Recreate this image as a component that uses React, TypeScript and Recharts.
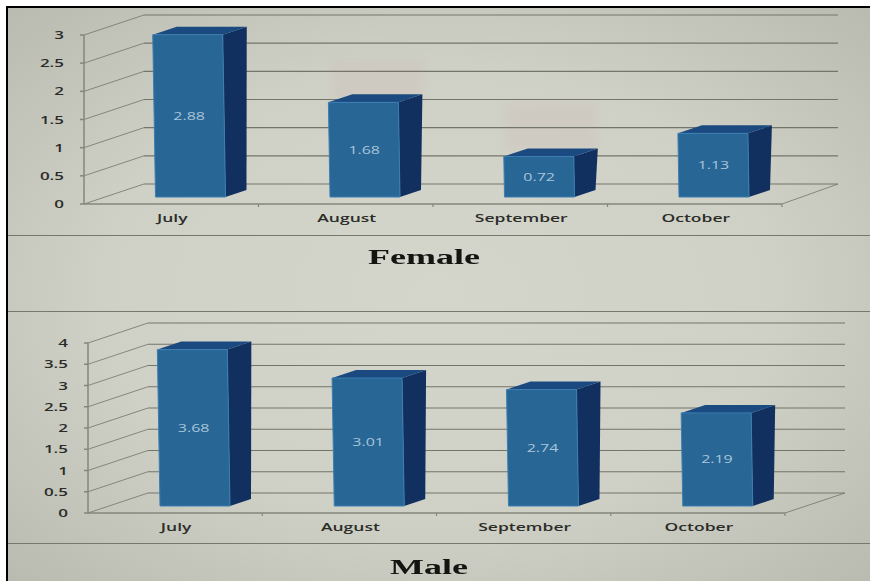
import { BarChart, Bar, CartesianGrid, XAxis, YAxis } from "recharts"

const months = ["July", "August", "September", "October"]
const femaleValues = [2.88, 1.68, 0.72, 1.13]
const maleValues = [3.68, 3.01, 2.74, 2.19]
const femaleTicks = [0, 0.5, 1, 1.5, 2, 2.5, 3]
const maleTicks = [0, 0.5, 1, 1.5, 2, 2.5, 3, 3.5, 4]

const toRows = (values: number[]) => months.map((month, i) => ({ month, value: values[i] }))

const AXIS = "#85867b"
const WALL = "#74756a"
const LABEL_FONT = "'Open Sans', sans-serif"

// back wall: each gridline is pushed up and right, with a diagonal joining it to the axis
function wallLine(p: any, endDx: number) {
    const { x1, x2, y1, key } = p
    return (
        <g key={key ?? y1}>
            <line x1={x1} y1={y1} x2={x1 + 60} y2={y1 - 20} stroke={WALL} strokeWidth={0.8} />
            <line x1={x1 + 60} y1={y1 - 20} x2={x2 + endDx} y2={y1 - 20} stroke={WALL} strokeWidth={1.2} />
        </g>
    )
}

function MonthTick(p: any) {
    const { x, y, payload } = p
    const half = payload.offset ?? 87
    return (
        <g>
            <line x1={x + half} y1={y - 8} x2={x + half} y2={y - 5} stroke={AXIS} strokeWidth={1.2} />
            <text transform={`translate(${x + 1},${y + 10}) scale(1.75,1)`} textAnchor="middle"
                fontFamily={LABEL_FONT} fontSize={10} fontWeight={600} fill="#2b2c28">{payload.value}</text>
        </g>
    )
}

function ValueTick(p: any) {
    const { x, y, payload } = p
    return (
        <text transform={`translate(${x},${y + 4}) scale(1.7,1)`} textAnchor="end"
            fontFamily={LABEL_FONT} fontSize={10} fontWeight={600} fill="#2b2c28">{payload.value}</text>
    )
}

// extruded column: front face, top and dark side
function Block(p: any) {
    const { x, y, width, height, payload, shift } = p
    const lift = 7
    const left = x + shift
    const right = left + width
    const bottom = y + height - lift
    const top = y - lift
    const lean = height * 0.017
    const tl = left - lean
    const tr = right - lean
    const pts = (a: number[][]) => a.map(q => q.join(",")).join(" ")
    return (
        <g>
            <polygon points={pts([[tr, top], [tr + 24, top - 8], [right + 21, bottom - 7], [right, bottom]])} fill="#12305f" />
            <polygon points={pts([[tl, top], [tl + 24, top - 8], [tr + 24, top - 8], [tr, top]])} fill="#1b4a80" />
            <polygon points={pts([[tl, top], [tr, top], [right, bottom], [left, bottom]])} fill="#286696" stroke="#3b7fb2" strokeWidth={1} />
            <text transform={`translate(${left + width / 2 - lean / 2},${(top + bottom) / 2 + 4}) scale(1.6,1)`} textAnchor="middle"
                fontFamily={LABEL_FONT} fontSize={10} fill="#aac5d8">{payload.value.toFixed(2)}</text>
        </g>
    )
}

type PanelProps = {
    rows: { month: string; value: number }[]
    ticks: number[]
    top: number
    height: number
    plotTop: number
    marginLeft: number
    marginRight: number
    axisHeight: number
    shift: number
    endDx: number
}

function Panel({ rows, ticks, top, height, plotTop, marginLeft, marginRight, axisHeight, shift, endDx }: PanelProps) {
    const zero = (p: any) => {
        const { x2, y2 } = p
        return <line x1={x2} y1={y2} x2={x2 + endDx} y2={y2 - 20} stroke={WALL} strokeWidth={0.8} />
    }
    return (
        <div style={{ position: "absolute", left: 0, top }}>
            <BarChart width={870} height={height} data={rows} barSize={70}
                margin={{ top: plotTop, right: marginRight, bottom: 0, left: marginLeft }}>
                <CartesianGrid vertical={false} horizontal={(p: any) => (
                    <g key={p.y1}>
                        {wallLine(p, endDx)}
                        {p.index === 0 || p.y1 === plotTop + 170 ? zero(p) : null}
                    </g>
                )} />
                <XAxis dataKey="month" height={axisHeight} interval={0} tickLine={false} stroke={AXIS} strokeWidth={1.5} tick={<MonthTick />} />
                <YAxis width={50} domain={[0, ticks[ticks.length - 1]]} ticks={ticks} interval={0} tickSize={4} tickMargin={16}
                    stroke={AXIS} strokeWidth={1.5} tick={<ValueTick />} />
                <Bar dataKey="value" isAnimationActive={false} shape={(p: any) => <Block {...p} shift={shift} />} />
            </BarChart>
        </div>
    )
}

const rule = (y: number) => (
    <div style={{ position: "absolute", left: 8, right: 0, top: y, height: 1, background: "#77786d" }} />
)

const title = (text: string, centre: number, y: number) => (
    <div style={{
        position: "absolute", left: centre - 100, width: 200, top: y, textAlign: "center", transform: "scaleX(1.8)",
        fontFamily: "'Liberation Serif', serif", fontWeight: 700, fontSize: 20, lineHeight: "24px", color: "#141411",
    }}>{text}</div>
)

const smudge = (left: number, top: number, width: number, height: number) => (
    <div style={{ position: "absolute", left, top, width, height, background: "rgba(205,170,170,0.14)", filter: "blur(3px)" }} />
)

export default function App() {
    return (
        <div style={{ position: "fixed", left: 0, top: 0, width: 870, height: 581, background: "#fff", overflow: "hidden" }}>
            <div style={{
                position: "absolute", left: 6, top: 6, right: 0, bottom: 0, borderLeft: "2px solid #000", borderTop: "2px solid #000",
                background: "radial-gradient(ellipse at 50% 50%, #d4d5cb 0%, #cfd0c6 55%, #b9bbb1 100%)",
            }} />
            {smudge(333, 62, 90, 38)}
            {smudge(505, 104, 91, 46)}
            {rule(235)}
            {rule(311)}
            {rule(543)}
            {title("Female", 423.5, 245)}
            {title("Male", 428.5, 555)}
            <Panel rows={toRows(femaleValues)} ticks={femaleTicks} top={0} height={235} plotTop={35} marginLeft={34} marginRight={88}
                axisHeight={31} shift={19.5} endDx={56} />
            <Panel rows={toRows(maleValues)} ticks={maleTicks} top={300} height={243} plotTop={43} marginLeft={38} marginRight={85}
                axisHeight={30} shift={20} endDx={60} />
        </div>
    )
}
